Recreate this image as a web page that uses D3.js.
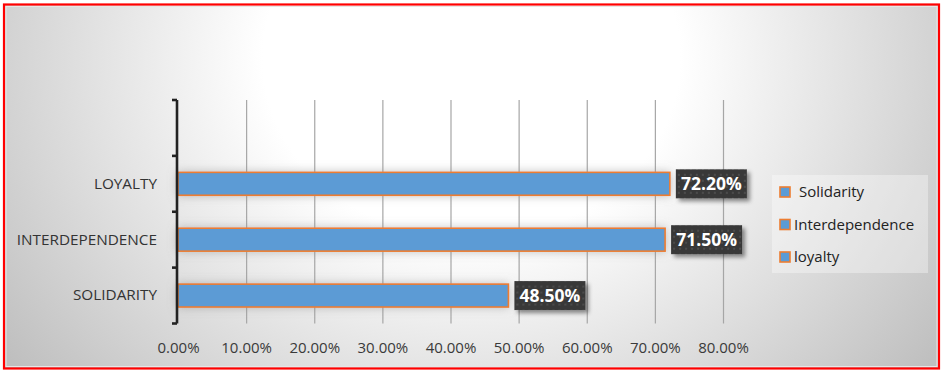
<!DOCTYPE html>
<html>
<head>
<meta charset="utf-8">
<script src="https://cdn.jsdelivr.net/npm/d3@7"></script>
<style>
  body { margin: 0; background: #fff; }
  svg { display: block; font-family: "Open Sans", sans-serif; }
</style>
</head>
<body>
<div id="chart"></div>
<script>
var width = 945;
var height = 374;

// data (bottom to top, the top slot is empty in the original)
var categories = ["SOLIDARITY", "INTERDEPENDENCE", "LOYALTY", ""];
var values = [0.485, 0.715, 0.722];
var xTicks = [0, 0.1, 0.2, 0.3, 0.4, 0.5, 0.6, 0.7, 0.8];
var legendNames = ["Solidarity", "Interdependence", "loyalty"];

var svg = d3.select("#chart").append("svg")
  .attr("width", width)
  .attr("height", height);

var defs = svg.append("defs");

// background gradient
var grad = defs.append("radialGradient")
  .attr("id", "bg")
  .attr("cx", "0.5").attr("cy", "0.15")
  .attr("r", "0.62")
  .attr("gradientTransform", "translate(0.5,0.15) scale(1,2.2) translate(-0.5,-0.15)");
grad.append("stop").attr("offset", "0").attr("stop-color", "#ffffff");
grad.append("stop").attr("offset", "0.36").attr("stop-color", "#ffffff");
grad.append("stop").attr("offset", "1").attr("stop-color", "#bfbfbf");

// dotted dark texture for data labels
var pat = defs.append("pattern")
  .attr("id", "dots")
  .attr("width", 6).attr("height", 6)
  .attr("patternUnits", "userSpaceOnUse");
pat.append("rect").attr("width", 6).attr("height", 6).attr("fill", "#383838");
pat.append("circle").attr("cx", 3).attr("cy", 3).attr("r", 0.9).attr("fill", "#555");

var shadow = defs.append("filter").attr("id", "shadow")
  .attr("x", "-20%").attr("y", "-30%").attr("width", "150%").attr("height", "170%");
shadow.append("feDropShadow")
  .attr("dx", 3).attr("dy", 3).attr("stdDeviation", 2)
  .attr("flood-color", "#000").attr("flood-opacity", 0.45);

var glow = defs.append("filter").attr("id", "glow")
  .attr("x", "-5%").attr("y", "-60%").attr("width", "110%").attr("height", "220%");
glow.append("feDropShadow")
  .attr("dx", 0).attr("dy", 0).attr("stdDeviation", 5)
  .attr("flood-color", "#888").attr("flood-opacity", 0.5);

// frame
svg.append("rect")
  .attr("x", 4).attr("y", 4.5)
  .attr("width", 935).attr("height", 364)
  .attr("fill", "url(#bg)")
  .attr("stroke", "#ff0000")
  .attr("stroke-width", 2.2);
svg.append("rect")
  .attr("x", 6).attr("y", 6.5)
  .attr("width", 931).attr("height", 360)
  .attr("fill", "none")
  .attr("stroke", "#e6e6e6")
  .attr("stroke-width", 1);

// scales
var x = d3.scaleLinear().domain([0, 0.8]).range([178, 723]);
var y = d3.scaleBand().domain(categories).range([323.5, 100]).padding(0);
var barH = y.bandwidth() * 0.41;

// gridlines
svg.append("g")
  .attr("transform", "translate(0,323.5)")
  .call(d3.axisBottom(x).tickValues(xTicks.slice(1)).tickSize(-223.5).tickFormat(""))
  .call(function(g) {
    g.select(".domain").remove();
    g.selectAll(".tick line").attr("stroke", "#a6a6a6").attr("stroke-width", 1.2);
  });

// x tick labels
svg.append("g")
  .attr("transform", "translate(0,339)")
  .call(d3.axisBottom(x).tickValues(xTicks).tickSize(0).tickFormat(d3.format(".2%")))
  .call(function(g) {
    g.select(".domain").remove();
    g.selectAll("text")
      .attr("fill", "#3a3a3a")
      .style("font-size", "15px")
      .style("font-family", "'Open Sans', sans-serif");
  });

// bars
var rows = values.map(function(v, i) { return { cat: categories[i], value: v }; });

svg.append("g").selectAll("rect")
  .data(rows)
  .join("rect")
  .attr("x", x(0))
  .attr("y", function(d) { return y(d.cat) + (y.bandwidth() - barH) / 2; })
  .attr("width", function(d) { return x(d.value) - x(0); })
  .attr("height", barH)
  .attr("fill", "#5b9bd5")
  .attr("stroke", "#ed7d31")
  .attr("stroke-width", 1.6)
  .attr("filter", "url(#glow)");

// y axis: line plus boundary ticks
var bounds = categories.map(function(c) { return y(c); });
bounds.push(y(categories[0]) + y.bandwidth());
var axisG = svg.append("g");
axisG.append("line")
  .attr("x1", x(0) - 1).attr("x2", x(0) - 1)
  .attr("y1", d3.min(bounds)).attr("y2", d3.max(bounds))
  .attr("stroke", "#222").attr("stroke-width", 2.6);
axisG.selectAll("line.tk")
  .data(bounds)
  .join("line")
  .attr("class", "tk")
  .attr("x1", x(0) - 6).attr("x2", x(0) - 1)
  .attr("y1", function(d) { return d; }).attr("y2", function(d) { return d; })
  .attr("stroke", "#222").attr("stroke-width", 2.6);

// category labels
svg.append("g")
  .attr("transform", "translate(157,0)")
  .call(d3.axisLeft(y).tickSize(0).tickPadding(0))
  .call(function(g) {
    g.select(".domain").remove();
    g.selectAll("text")
      .attr("fill", "#333")
      .style("font-size", "15.3px")
      .style("font-family", "'Open Sans', sans-serif");
  });

// data labels
var lab = svg.append("g").selectAll("g")
  .data(rows)
  .join("g")
  .attr("transform", function(d) {
    return "translate(" + (x(d.value) + 6) + "," + (y(d.cat) + y.bandwidth() / 2) + ")";
  });
lab.append("rect")
  .attr("x", 0).attr("y", -14.5)
  .attr("width", 71).attr("height", 29)
  .attr("fill", "url(#dots)")
  .attr("filter", "url(#shadow)");
lab.append("text")
  .attr("x", 35.5).attr("y", 0)
  .attr("dy", "0.36em")
  .attr("text-anchor", "middle")
  .attr("fill", "#fff")
  .style("font-size", "17.5px")
  .style("font-weight", "bold")
  .text(function(d) { return d3.format(".2%")(d.value); });

// legend
var lg = svg.append("g");
lg.append("rect")
  .attr("x", 772).attr("y", 175)
  .attr("width", 156).attr("height", 98)
  .attr("fill", "#ffffff").attr("fill-opacity", 0.35);
var legendY = d3.scalePoint().domain(legendNames).range([192, 257]);
var item = lg.selectAll("g")
  .data(legendNames)
  .join("g")
  .attr("transform", function(d) { return "translate(780," + legendY(d) + ")"; });
item.append("rect")
  .attr("x", 0).attr("y", -5)
  .attr("width", 10).attr("height", 10)
  .attr("fill", "#5b9bd5")
  .attr("stroke", "#ed7d31")
  .attr("stroke-width", 1.6);
item.append("text")
  .attr("x", function(d, i) { return i === 0 ? 19 : 14; })
  .attr("dy", "0.36em")
  .attr("fill", "#222")
  .style("font-size", "15px")
  .text(function(d) { return d; });
</script>
</body>
</html>
